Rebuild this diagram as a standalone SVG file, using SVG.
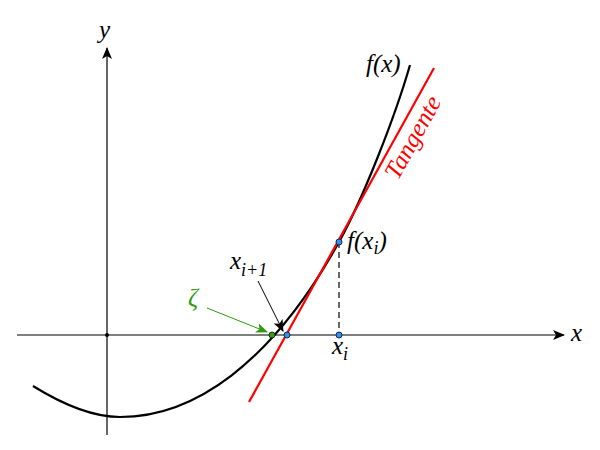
<svg xmlns="http://www.w3.org/2000/svg" width="600" height="450" viewBox="0 0 600 450">
<defs>
<style>
.t{font-family:"Liberation Serif","Times New Roman",serif;font-style:italic;font-size:25px;fill:#000}
.sub{font-size:18px}
.dotb{fill:#3a8ee6;stroke:#0a2a55;stroke-width:1}
.dotg{fill:#3d9a1a;stroke:#0e3a05;stroke-width:1}
</style>
<marker id="ah" viewBox="0 0 12 10" refX="11" refY="5" markerWidth="12" markerHeight="10" markerUnits="userSpaceOnUse" orient="auto"><path d="M0,0 L12,5 L0,10 L3,5 Z" fill="#000"/></marker>
<marker id="ahg" viewBox="0 0 12 10" refX="11" refY="5" markerWidth="12" markerHeight="10" markerUnits="userSpaceOnUse" orient="auto"><path d="M0,0 L12,5 L0,10 L3,5 Z" fill="#2e9a10"/></marker>
</defs>
<rect width="600" height="450" fill="#fff"/>
<g id="axes">
<line x1="17" y1="335" x2="564" y2="335" stroke="#000" stroke-width="1.2" marker-end="url(#ah)"/>
<line x1="107" y1="435" x2="107" y2="48" stroke="#000" stroke-width="1.2" marker-end="url(#ah)"/>
<circle cx="107" cy="335" r="2" fill="#000"/>
<text class="t" x="99" y="38">y</text>
<text class="t" x="571" y="341">x</text>
</g>
<g id="curve">
<path d="M33,386 C62,404 91,417 120,417 C193,417 271,364.7 339,242 C363,198.7 395,117 410,65" fill="none" stroke="#000" stroke-width="2.2"/>
<text class="t" x="366" y="72">f(x)</text>
</g>
<g id="tangent">
<line x1="249" y1="402" x2="434" y2="68" stroke="#f00" stroke-width="2.2"/>
<text class="t" x="0" y="0" style="fill:#f00" transform="translate(398,181) rotate(-61)">Tangente</text>
</g>
<g id="connectors">
<line x1="339" y1="242" x2="339" y2="335" stroke="#000" stroke-width="1.2" stroke-dasharray="6,4"/>
<line x1="258" y1="281" x2="283" y2="331" stroke="#000" stroke-width="1" marker-end="url(#ah)"/>
<line x1="207" y1="308" x2="267" y2="332" stroke="#2e9a10" stroke-width="1" marker-end="url(#ahg)"/>
</g>
<g id="zeta">
<circle class="dotg" cx="272" cy="335" r="3"/>
<text class="t" x="188" y="306" style="fill:#2e9a10">ζ</text>
</g>
<g id="xi1">
<circle class="dotb" cx="287" cy="335" r="3"/>
<text class="t" x="230" y="269">x<tspan class="sub" dy="7">i+1</tspan></text>
</g>
<g id="fxi">
<circle class="dotb" cx="339" cy="242" r="3"/>
<text class="t" x="347" y="249">f(x<tspan class="sub" dy="5">i</tspan><tspan dy="-5">)</tspan></text>
</g>
<g id="xi">
<circle class="dotb" cx="339" cy="335" r="3"/>
<text class="t" x="332" y="354">x<tspan class="sub" dy="6">i</tspan></text>
</g>
</svg>
